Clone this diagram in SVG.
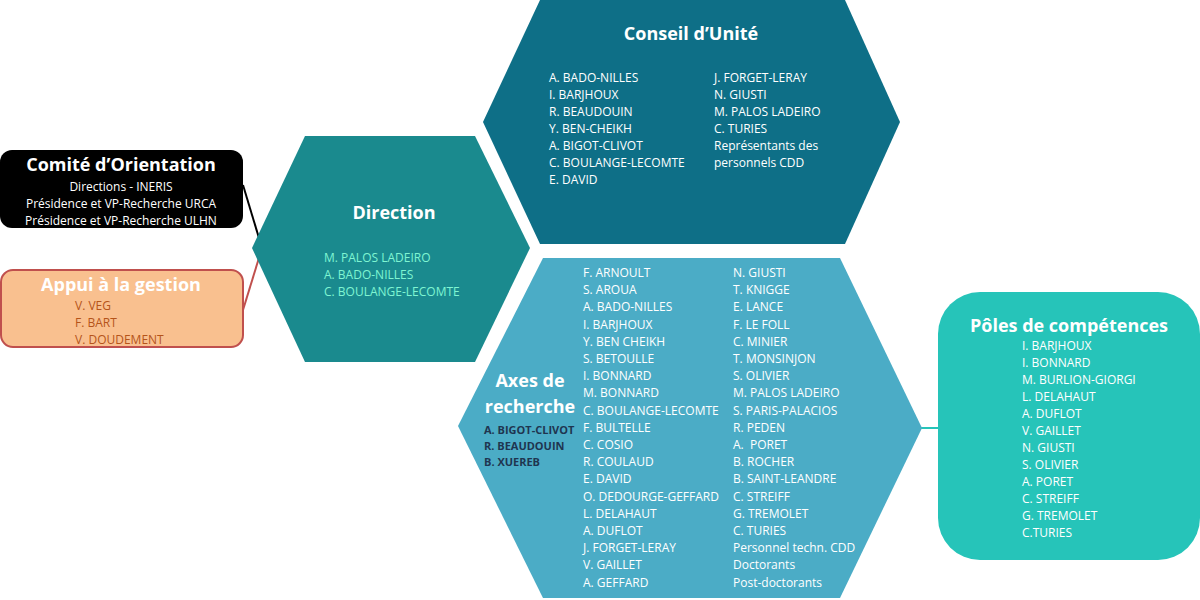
<svg xmlns="http://www.w3.org/2000/svg" width="1200" height="600" viewBox="0 0 1200 600">
<style>
text{font-family:"Open Sans","Liberation Sans",sans-serif}
.t{font-weight:bold;fill:#fff;font-size:18px;text-anchor:middle}
.w{fill:#fff;font-size:12px}
.d{fill:#7FF5D2;font-size:12px}
.b{fill:#B5541A;font-size:12px}
.k{fill:#1F3550;font-size:11px;font-weight:bold}
</style>
<rect width="1200" height="600" fill="#fff"/>
<g id="connectors">
<line x1="243" y1="185" x2="262" y2="248" stroke="#000" stroke-width="2"/>
<line x1="243" y1="310" x2="262" y2="248" stroke="#C0504D" stroke-width="2"/>
<line x1="920" y1="428" x2="940" y2="428" stroke="#26C4B9" stroke-width="2"/>
</g>
<g id="comite">
<rect x="0" y="150" width="243" height="78" rx="12" fill="#000"/>
<text class="t" x="121" y="171">Comité d’Orientation</text>
<text class="w" x="121" y="191" text-anchor="middle">Directions - INERIS</text>
<text class="w" x="121" y="208" text-anchor="middle">Présidence et VP-Recherche URCA</text>
<text class="w" x="121" y="225" text-anchor="middle">Présidence et VP-Recherche ULHN</text>
</g>
<g id="appui">
<rect x="1" y="270" width="242" height="77" rx="12" fill="#F9C08F" stroke="#C0504D" stroke-width="2"/>
<text class="t" x="121" y="291">Appui à la gestion</text>
<text class="b" x="75" y="310">V. VEG</text>
<text class="b" x="75" y="327">F. BART</text>
<text class="b" x="75" y="344">V. DOUDEMENT</text>
</g>
<g id="direction">
<polygon points="252,248 305,136 475,136 530,248 475,362 305,362" fill="#1A8A8E"/>
<text class="t" x="394" y="219">Direction</text>
<text class="d" x="324" y="262">M. PALOS LADEIRO</text>
<text class="d" x="324" y="279">A. BADO-NILLES</text>
<text class="d" x="324" y="296">C. BOULANGE-LECOMTE</text>
</g>
<g id="conseil">
<polygon points="483,122 540,0 845,0 900,122 845,244 540,244" fill="#0E6F87"/>
<text class="t" x="691" y="40">Conseil d’Unité</text>
<text class="w" x="549" y="82">A. BADO-NILLES<tspan x="549" dy="17">I. BARJHOUX</tspan><tspan x="549" dy="17">R. BEAUDOUIN</tspan><tspan x="549" dy="17">Y. BEN-CHEIKH</tspan><tspan x="549" dy="17">A. BIGOT-CLIVOT</tspan><tspan x="549" dy="17">C. BOULANGE-LECOMTE</tspan><tspan x="549" dy="17">E. DAVID</tspan></text>
<text class="w" x="714" y="82">J. FORGET-LERAY<tspan x="714" dy="17">N. GIUSTI</tspan><tspan x="714" dy="17">M. PALOS LADEIRO</tspan><tspan x="714" dy="17">C. TURIES</tspan><tspan x="714" dy="17">Représentants des</tspan><tspan x="714" dy="17">personnels CDD</tspan></text>
</g>
<g id="axes">
<polygon points="458,426 543,258 840,258 922,428 840,598 543,598" fill="#4BACC6"/>
<text class="t" x="530" y="387">Axes de</text>
<text class="t" x="530" y="413">recherche</text>
<text class="k" x="484" y="434">A. BIGOT-CLIVOT<tspan x="484" dy="16">R. BEAUDOUIN</tspan><tspan x="484" dy="16">B. XUEREB</tspan></text>
<text class="w" x="583" y="277">F. ARNOULT<tspan x="583" dy="17.2">S. AROUA</tspan><tspan x="583" dy="17.2">A. BADO-NILLES</tspan><tspan x="583" dy="17.2">I. BARJHOUX</tspan><tspan x="583" dy="17.2">Y. BEN CHEIKH</tspan><tspan x="583" dy="17.2">S. BETOULLE</tspan><tspan x="583" dy="17.2">I. BONNARD</tspan><tspan x="583" dy="17.2">M. BONNARD</tspan><tspan x="583" dy="17.2">C. BOULANGE-LECOMTE</tspan><tspan x="583" dy="17.2">F. BULTELLE</tspan><tspan x="583" dy="17.2">C. COSIO</tspan><tspan x="583" dy="17.2">R. COULAUD</tspan><tspan x="583" dy="17.2">E. DAVID</tspan><tspan x="583" dy="17.2">O. DEDOURGE-GEFFARD</tspan><tspan x="583" dy="17.2">L. DELAHAUT</tspan><tspan x="583" dy="17.2">A. DUFLOT</tspan><tspan x="583" dy="17.2">J. FORGET-LERAY</tspan><tspan x="583" dy="17.2">V. GAILLET</tspan><tspan x="583" dy="17.2">A. GEFFARD</tspan></text>
<text class="w" x="733" y="277">N. GIUSTI<tspan x="733" dy="17.2">T. KNIGGE</tspan><tspan x="733" dy="17.2">E. LANCE</tspan><tspan x="733" dy="17.2">F. LE FOLL</tspan><tspan x="733" dy="17.2">C. MINIER</tspan><tspan x="733" dy="17.2">T. MONSINJON</tspan><tspan x="733" dy="17.2">S. OLIVIER</tspan><tspan x="733" dy="17.2">M. PALOS LADEIRO</tspan><tspan x="733" dy="17.2">S. PARIS-PALACIOS</tspan><tspan x="733" dy="17.2">R. PEDEN</tspan><tspan x="733" dy="17.2" xml:space="preserve">A.  PORET</tspan><tspan x="733" dy="17.2">B. ROCHER</tspan><tspan x="733" dy="17.2">B. SAINT-LEANDRE</tspan><tspan x="733" dy="17.2">C. STREIFF</tspan><tspan x="733" dy="17.2">G. TREMOLET</tspan><tspan x="733" dy="17.2">C. TURIES</tspan><tspan x="733" dy="17.2">Personnel techn. CDD</tspan><tspan x="733" dy="17.2">Doctorants</tspan><tspan x="733" dy="17.2">Post-doctorants</tspan></text>
</g>
<g id="poles">
<rect x="938" y="292" width="262" height="268" rx="42" fill="#26C4B9"/>
<text class="t" x="1069" y="332">Pôles de compétences</text>
<text class="w" x="1022" y="350">I. BARJHOUX<tspan x="1022" dy="17">I. BONNARD</tspan><tspan x="1022" dy="17">M. BURLION-GIORGI</tspan><tspan x="1022" dy="17">L. DELAHAUT</tspan><tspan x="1022" dy="17">A. DUFLOT</tspan><tspan x="1022" dy="17">V. GAILLET</tspan><tspan x="1022" dy="17">N. GIUSTI</tspan><tspan x="1022" dy="17">S. OLIVIER</tspan><tspan x="1022" dy="17">A. PORET</tspan><tspan x="1022" dy="17">C. STREIFF</tspan><tspan x="1022" dy="17">G. TREMOLET</tspan><tspan x="1022" dy="17">C.TURIES</tspan></text>
</g>
</svg>
